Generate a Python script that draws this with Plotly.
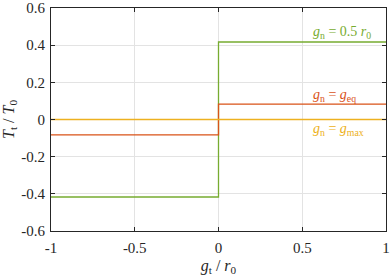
import plotly.graph_objects as go

x_left = [-1, 0]
x_right = [0, 1]
green_vals = [-0.417, 0.417]
red_vals = [-0.083, 0.083]
yellow_vals = [0.0, 0.0]
labels = ["<i>g</i><sub>n</sub> = 0.5 <i>r</i><sub>0</sub>",
          "<i>g</i><sub>n</sub> = <i>g</i><sub>eq</sub>",
          "<i>g</i><sub>n</sub> = <i>g</i><sub>max</sub>"]
label_y = [0.47, 0.128, -0.056]
colors = ["#77AC30", "#D95319", "#EDB120"]
xticks = [-1, -0.5, 0, 0.5, 1]
xtick_text = ["-1", "-0.5", "0", "0.5", "1"]
yticks = [-0.6, -0.4, -0.2, 0, 0.2, 0.4, 0.6]
ytick_text = ["-0.6", "-0.4", "-0.2", "0", "0.2", "0.4", "0.6"]

FONT = "Liberation Serif"

fig = go.Figure()
for vals, c in zip([green_vals, red_vals, yellow_vals], colors):
    xs = [x_left[0], x_left[1], x_right[0], x_right[1]]
    ys = [vals[0], vals[0], vals[1], vals[1]]
    fig.add_trace(go.Scatter(x=xs, y=ys, mode="lines", line=dict(color=c, width=1.3),
                             showlegend=False, hoverinfo="skip", cliponaxis=False))

for t, yv, c in zip(labels, label_y, colors):
    fig.add_annotation(x=0.55, y=yv, text=t, showarrow=False, xanchor="left", yanchor="middle",
                       font=dict(color=c, size=14, family=FONT))

axis_common = dict(showline=True, linecolor="#262626", linewidth=1, mirror="allticks",
                   ticks="inside", ticklen=4, tickcolor="#262626", showgrid=True,
                   gridcolor="#e3e3e3", gridwidth=1, zeroline=False, automargin=False)

fig.update_xaxes(range=[-1, 1], tickvals=xticks, ticktext=xtick_text, ticklabelstandoff=3,
                 tickfont=dict(family=FONT, size=15, color="#262626"),
                 title=dict(text="<i>g</i><sub>t</sub> / <i>r</i><sub>0</sub>", standoff=6,
                            font=dict(family=FONT, size=16, color="#262626")),
                 **axis_common)
fig.update_yaxes(range=[-0.6, 0.6], tickvals=yticks, ticktext=ytick_text, ticklabelstandoff=2,
                 tickfont=dict(family=FONT, size=15, color="#262626"),
                 title=dict(text="<i>T</i><sub>t</sub> / <i>T</i><sub>0</sub>", standoff=4,
                            font=dict(family=FONT, size=16, color="#262626")),
                 **axis_common)

fig.update_layout(width=390, height=276, margin=dict(l=51, r=4, t=8, b=45),
                  plot_bgcolor="white", paper_bgcolor="white",
                  font=dict(family=FONT, size=15, color="#262626"))

fig.write_html("out.html", config={"displayModeBar": False},
               post_script="document.body.style.margin='0';document.body.style.overflow='hidden';")
